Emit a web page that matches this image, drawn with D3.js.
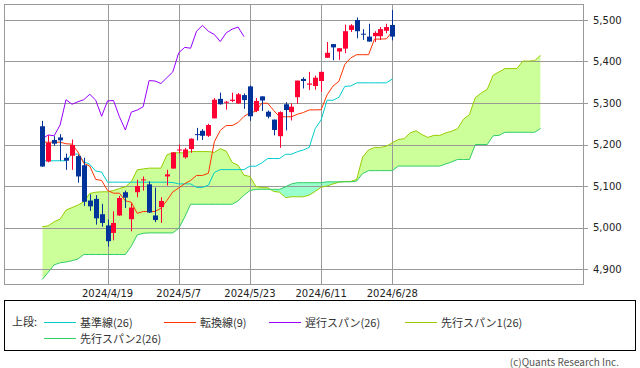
<!DOCTYPE html>
<html lang="ja">
<head>
<meta charset="UTF-8">
<title>一目均衡表</title>
<script src="https://d3js.org/d3.v7.min.js"></script>
<style>
  body { margin: 0; background: #fff; }
  svg { display: block; }
  .axis-label { font-family: "DejaVu Sans", Verdana, sans-serif; font-size: 10px; fill: #222; }
  .legend-text { font-family: "Noto Sans CJK JP", sans-serif; font-size: 11px; fill: #333; }
</style>
</head>
<body>
<svg width="640" height="368"></svg>
<script>
// 日付 (60営業日)
const dates = ["2024/4/4","2024/4/5","2024/4/8","2024/4/9","2024/4/10","2024/4/11","2024/4/12","2024/4/15","2024/4/16","2024/4/17",
  "2024/4/18","2024/4/19","2024/4/22","2024/4/23","2024/4/24","2024/4/25","2024/4/26","2024/4/29","2024/4/30","2024/5/1",
  "2024/5/2","2024/5/3","2024/5/6","2024/5/7","2024/5/8","2024/5/9","2024/5/10","2024/5/13","2024/5/14","2024/5/15",
  "2024/5/16","2024/5/17","2024/5/20","2024/5/21","2024/5/22","2024/5/23","2024/5/24","2024/5/28","2024/5/29","2024/5/30",
  "2024/5/31","2024/6/3","2024/6/4","2024/6/5","2024/6/6","2024/6/7","2024/6/10","2024/6/11","2024/6/12","2024/6/13",
  "2024/6/14","2024/6/17","2024/6/18","2024/6/20","2024/6/21","2024/6/24","2024/6/25","2024/6/26","2024/6/27","2024/6/28"];

const open = [5244,5159,5211,5217,5168,5173,5172,5150,5065,5069, 5032,5005,4987,5029,5085,5020,5085,5114,5104,5029,
  5049,5123,5142,5187,5169,5189,5225,5233,5221,5263, 5310,5303,5305,5299,5319,5340,5281,5316,5279,5260,
  5220,5297,5278,5314,5358,5344,5341,5353,5409,5442, 5424,5431,5476,5500,5467,5460,5461,5461,5474,5488];
const high = [5257,5222,5220,5225,5178,5212,5175,5168,5080,5078, 5057,5019,5039,5076,5089,5058,5115,5123,5111,5096,
  5073,5139,5181,5200,5192,5215,5240,5237,5250,5312, 5325,5305,5325,5324,5323,5342,5312,5316,5282,5260,
  5280,5302,5299,5354,5362,5375,5366,5376,5447,5442, 5432,5489,5490,5506,5478,5491,5473,5483,5491,5524];
const low = [5146,5157,5197,5161,5139,5139,5108,5052,5040,5007, 5002,4954,4969,5028,5047,4991,5073,5089,5035,5013,
  5011,5101,5142,5179,5166,5180,5210,5211,5218,5263, 5296,5284,5302,5298,5286,5257,5278,5281,5263,5222,
  5192,5234,5258,5298,5335,5331,5332,5327,5409,5403, 5404,5420,5471,5456,5452,5448,5447,5452,5468,5451];
const close = [5147,5204,5202,5210,5161,5199,5123,5062,5051,5022, 5011,4967,5011,5071,5072,5048,5100,5116,5036,5018,
  5064,5128,5181,5188,5188,5214,5223,5221,5247,5308, 5297,5303,5308,5321,5307,5268,5305,5306,5267,5235,
  5278,5283,5291,5354,5353,5347,5361,5375,5421,5434, 5432,5473,5487,5473,5465,5448,5469,5478,5483,5460];

// 転換線(9) / 基準線(26)
const tenkan = [5205.5,5205.5,5205.5,5205.5,5201.8,5200.9,5182.3,5154.5,5148.2,5116.0,
  5113.4,5089.2,5082.7,5082.7,5064.3,5061.0,5034.1,5038.5,5038.5,5038.5,
  5046.4,5064.9,5085.8,5095.4,5105.6,5113.2,5125.4,5125.4,5130.7,5206.5,
  5234.0,5245.7,5245.7,5253.0,5267.6,5276.5,5279.9,5299.4,5299.4,5282.0,
  5266.8,5266.8,5266.8,5272.9,5277.0,5283.4,5283.4,5283.8,5319.5,5340.8,
  5352.4,5393.1,5408.8,5416.4,5416.4,5416.4,5454.0,5454.0,5454.6,5472.0];
const kijun = [5160.8,5160.8,5160.8,5160.8,5160.8,5177,5177,5158.7,5152.3,5136.1,
  5133.4,5109.2,5109.2,5109.2,5109.2,5109.2,5109.2,5109.2,5109.2,5109.2,
  5109.2,5109.2,5108.3,5105.1,5105.1,5105.1,5096.6,5096.6,5102.0,5132.7,
  5139.5,5139.5,5139.5,5139.5,5139.5,5147.7,5147.7,5155.6,5166.2,5166.2,
  5166.2,5176.5,5176.5,5182.6,5186.7,5193.1,5238.2,5259.2,5306.6,5306.6,
  5313.8,5340.1,5341.0,5348.6,5348.6,5348.6,5348.6,5348.6,5348.6,5357.7];

// 先行スパン1 / 2 (85本: 60本 + 先行25本)
const spanA = [5002,5004,5014,5020,5042,5048,5054,5062,5082,5085,
  5086,5086,5089,5094,5098,5110,5139,5141,5143,5143,
  5143,5175,5180,5180,5180,5183,5183,5183,5183,5181,
  5190,5184,5157,5150,5126,5123,5099,5096,5096,5087,
  5085,5072,5074,5074,5074,5078,5087,5097,5100,5105,
  5109,5111,5111,5116,5170,5187,5193,5193,5196,5204,
  5212,5214,5228,5233,5224,5217,5222,5222,5228,5232,
  5238,5261,5272,5313,5324,5333,5367,5375,5383,5383,
  5383,5401,5401,5402,5415];
const spanB = [4875,4892,4910,4915,4917,4920,4924,4935,4935,4935,
  4935,4935,4935,4935,4935,4955,4982,4986,4987,4987,
  4987,4987,4987,4998,5025,5056,5056,5056,5056,5056,
  5056,5056,5056,5064,5078,5089,5092,5092,5092,5092,
  5092,5098,5105,5108,5108,5108,5108,5108,5110,5110,
  5110,5110,5110,5112,5130,5137,5137,5137,5137,5137,
  5148,5148,5148,5148,5148,5148,5148,5148,5153,5158,
  5164,5164,5164,5200,5200,5200,5221,5222,5229.5,5229.5,
  5229.5,5229.5,5229.5,5229.5,5238.6];

const yTicks = [4900, 5000, 5100, 5200, 5300, 5400, 5500];
const xTickIdx = [11, 23, 35, 47, 59];
const lag = 25;

const svg = d3.select("svg");
const plotL = 4, plotT = 4, plotR = 583, plotB = 284;

const x = d3.scaleLinear().domain([0, 59]).range([42.3, 392.3]);
const y = d3.scaleLinear().domain([4900, 5500]).range([269, 20]);

svg.append("rect").attr("width", 640).attr("height", 368).attr("fill", "#fff");

// 雲
const cloud = spanA.map((a, j) => ({ j, a, b: spanB[j] }));
const defs = svg.append("defs");
defs.append("clipPath").attr("id", "aboveB").append("path")
  .attr("d", d3.area().x(d => x(d.j)).y0(d => y(d.b)).y1(plotT)(cloud));
defs.append("clipPath").attr("id", "belowB").append("path")
  .attr("d", d3.area().x(d => x(d.j)).y0(d => y(d.b)).y1(plotB)(cloud));
const between = d3.area().x(d => x(d.j)).y0(d => y(d.b)).y1(d => y(d.a));
svg.append("path").attr("d", between(cloud)).attr("fill", "#ccff99").attr("clip-path", "url(#aboveB)");
svg.append("path").attr("d", between(cloud)).attr("fill", "#99ffcc").attr("clip-path", "url(#belowB)");

// グリッド
const grid = svg.append("g").attr("stroke", "#999").attr("stroke-width", 1);
yTicks.forEach(v => {
  const yy = Math.round(y(v)) + 0.5;
  grid.append("line").attr("x1", plotL).attr("x2", plotR + 5).attr("y1", yy).attr("y2", yy);
});
xTickIdx.forEach(i => {
  const xx = Math.round(x(i)) + 0.5;
  grid.append("line").attr("x1", xx).attr("x2", xx).attr("y1", plotT).attr("y2", plotB);
});
svg.append("rect").attr("x", plotL + 0.5).attr("y", plotT + 0.5)
  .attr("width", plotR - plotL).attr("height", plotB - plotT)
  .attr("fill", "none").attr("stroke", "#999");

// ラベル
svg.append("g").selectAll("text").data(yTicks).join("text")
  .attr("class", "axis-label").attr("x", 593).attr("y", d => y(d)).attr("dy", "0.36em")
  .text(d => d3.format(",")(d));
svg.append("g").selectAll("text").data(xTickIdx).join("text")
  .attr("class", "axis-label").attr("x", d => x(d)).attr("y", 297).attr("text-anchor", "middle")
  .text(d => dates[d]);

// 線
const line = d3.line().x(d => x(d[0])).y(d => y(d[1]));
const drawLine = (vals, color, offset = 0) =>
  svg.append("path").attr("d", line(vals.map((v, i) => [i + offset, v])))
    .attr("fill", "none").attr("stroke", color).attr("stroke-width", 1);

drawLine(spanA, "#99cc00");
drawLine(spanB, "#33cc66");
drawLine(kijun, "#00cccc");
drawLine(tenkan, "#ff3300");
drawLine(close.slice(lag), "#9900ff");

// ローソク足
const candles = svg.append("g");
dates.forEach((d, i) => {
  const up = close[i] >= open[i];
  const col = up ? "#ff0033" : "#003399";
  const cx = Math.round(x(i));
  candles.append("line").attr("x1", cx + 0.5).attr("x2", cx + 0.5)
    .attr("y1", y(high[i])).attr("y2", y(low[i])).attr("stroke", col);
  const y0 = y(Math.max(open[i], close[i])), y1 = y(Math.min(open[i], close[i]));
  candles.append("rect").attr("x", cx - 2).attr("y", y0)
    .attr("width", 5).attr("height", Math.max(1, y1 - y0)).attr("fill", col);
});

// 凡例
svg.append("rect").attr("x", 4.5).attr("y", 300.5).attr("width", 631).attr("height", 50)
  .attr("fill", "none").attr("stroke", "#000");
const legendItems = [
  { name: "基準線(26)", color: "#00cccc", x: 44, row: 0 },
  { name: "転換線(9)", color: "#ff3300", x: 164, row: 0 },
  { name: "遅行スパン(26)", color: "#9900ff", x: 269, row: 0 },
  { name: "先行スパン1(26)", color: "#99cc00", x: 405, row: 0 },
  { name: "先行スパン2(26)", color: "#33cc66", x: 44, row: 1 }
];
svg.append("text").attr("class", "legend-text").attr("x", 12).attr("y", 326).text("上段:");
legendItems.forEach(it => {
  const yy = 322.5 + it.row * 16;
  svg.append("line").attr("x1", it.x).attr("x2", it.x + 32).attr("y1", yy).attr("y2", yy)
    .attr("stroke", it.color);
  svg.append("text").attr("class", "legend-text").attr("x", it.x + 36).attr("y", yy + 4).text(it.name);
});
svg.append("text").attr("x", 619).attr("y", 366).attr("text-anchor", "end")
  .style("font-family", "'Noto Sans CJK JP', sans-serif").style("font-size", "10px").style("fill", "#555")
  .text("(c)Quants Research Inc.");
</script>
</body>
</html>
